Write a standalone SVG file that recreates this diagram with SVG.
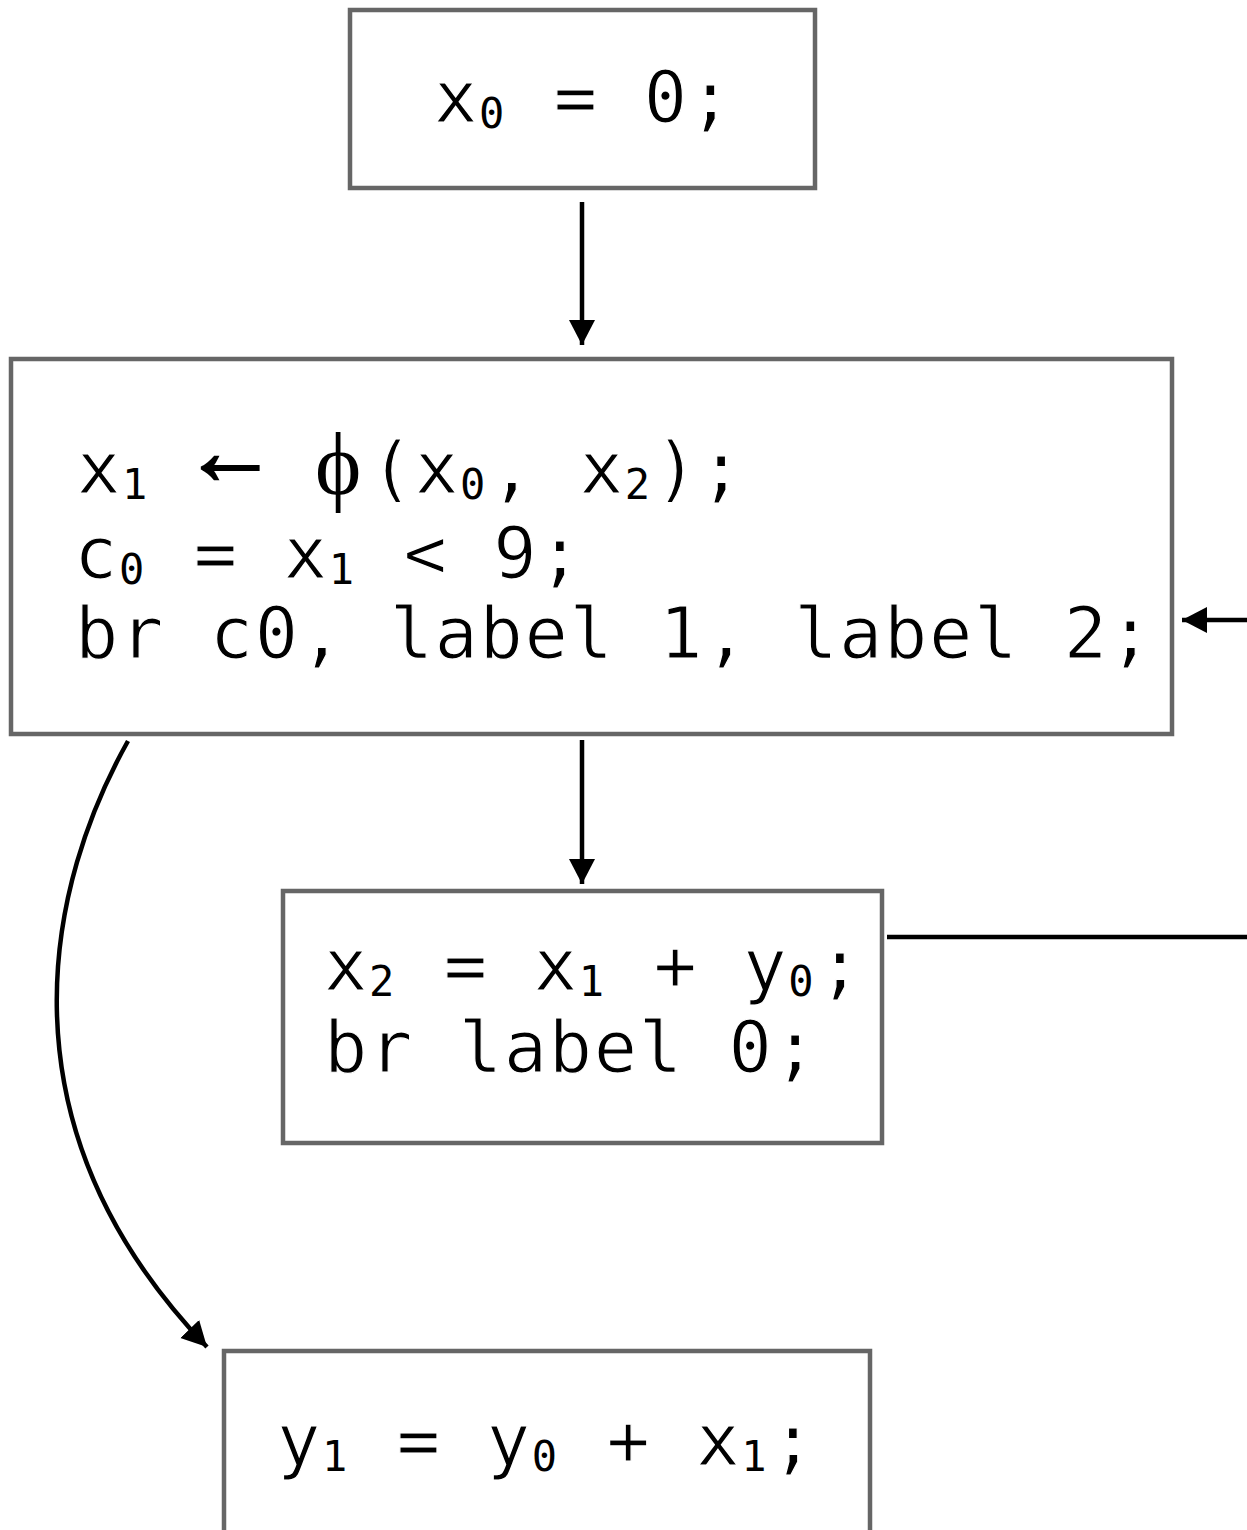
<svg xmlns="http://www.w3.org/2000/svg" width="1247" height="1530" viewBox="0 0 1247 1530">
<defs>
<style>
.box{fill:#fff;stroke:#666;stroke-width:4.5}
.code{font-family:"DejaVu Sans Mono","Liberation Mono",monospace;font-size:72px;letter-spacing:1.6px;fill:#000;stroke:#fff;stroke-width:1.2px}
.sub{font-size:42px;letter-spacing:4.6px;stroke:none}
.sym{fill:#000}
.edge{fill:none;stroke:#000;stroke-width:4.5}
</style>
<marker id="ah" markerUnits="userSpaceOnUse" markerWidth="27" markerHeight="28" refX="25" refY="13" orient="auto">
<path d="M0,0 L25,13 L0,26 z" fill="#000"/>
</marker>
</defs>
<rect width="1247" height="1530" fill="#fff"/>
<g id="connectors">
<line class="edge" x1="582" y1="202" x2="582" y2="345" marker-end="url(#ah)"/>
<line class="edge" x1="582" y1="740" x2="582" y2="884" marker-end="url(#ah)"/>
<path class="edge" d="M128,741 C50,880 -10,1120 207,1347" marker-end="url(#ah)"/>
<line class="edge" x1="887" y1="937" x2="1250" y2="937"/>
<line class="edge" x1="1250" y1="620" x2="1182" y2="620" marker-end="url(#ah)"/>
</g>
<g id="node-entry">
<rect class="box" x="350" y="10" width="465" height="178"/>
<text class="code" x="434" y="122">x<tspan class="sub" dy="6">0</tspan><tspan dy="-6"> = 0;</tspan></text>
</g>
<g id="node-header">
<rect class="box" x="11" y="359" width="1161" height="375"/>
<text class="code" x="77" y="493">x<tspan class="sub" dy="6">1</tspan></text>
<text class="sym" x="182" y="484" style="font-family:'Liberation Serif',serif;font-size:96px;font-weight:bold;stroke:#000;stroke-width:2px;stroke-linejoin:miter">←</text>
<text class="sym" x="315" y="494" style="font-family:'Liberation Serif','DejaVu Serif',serif;font-size:88px">ϕ</text>
<text class="code" x="370" y="493">(x<tspan class="sub" dy="6">0</tspan><tspan dy="-6">, x</tspan><tspan class="sub" dy="6">2</tspan><tspan dy="-6">);</tspan></text>
<text class="code" x="74" y="578">c<tspan class="sub" dy="6">0</tspan><tspan dy="-6"> = x</tspan><tspan class="sub" dy="6">1</tspan><tspan dy="-6"> &lt; 9;</tspan></text>
<text class="code" x="75" y="658">br c0, label 1, label 2;</text>
</g>
<g id="node-body">
<rect class="box" x="283" y="891" width="599" height="252"/>
<text class="code" x="324" y="990">x<tspan class="sub" dy="6">2</tspan><tspan dy="-6"> = x</tspan><tspan class="sub" dy="6">1</tspan><tspan dy="-6"> + y</tspan><tspan class="sub" dy="6">0</tspan><tspan dy="-6">;</tspan></text>
<text class="code" x="324" y="1072">br label 0;</text>
</g>
<g id="node-exit">
<rect class="box" x="224" y="1351" width="646" height="200"/>
<text class="code" x="277" y="1465">y<tspan class="sub" dy="6">1</tspan><tspan dy="-6"> = y</tspan><tspan class="sub" dy="6">0</tspan><tspan dy="-6"> + x</tspan><tspan class="sub" dy="6">1</tspan><tspan dy="-6">;</tspan></text>
</g>
</svg>
